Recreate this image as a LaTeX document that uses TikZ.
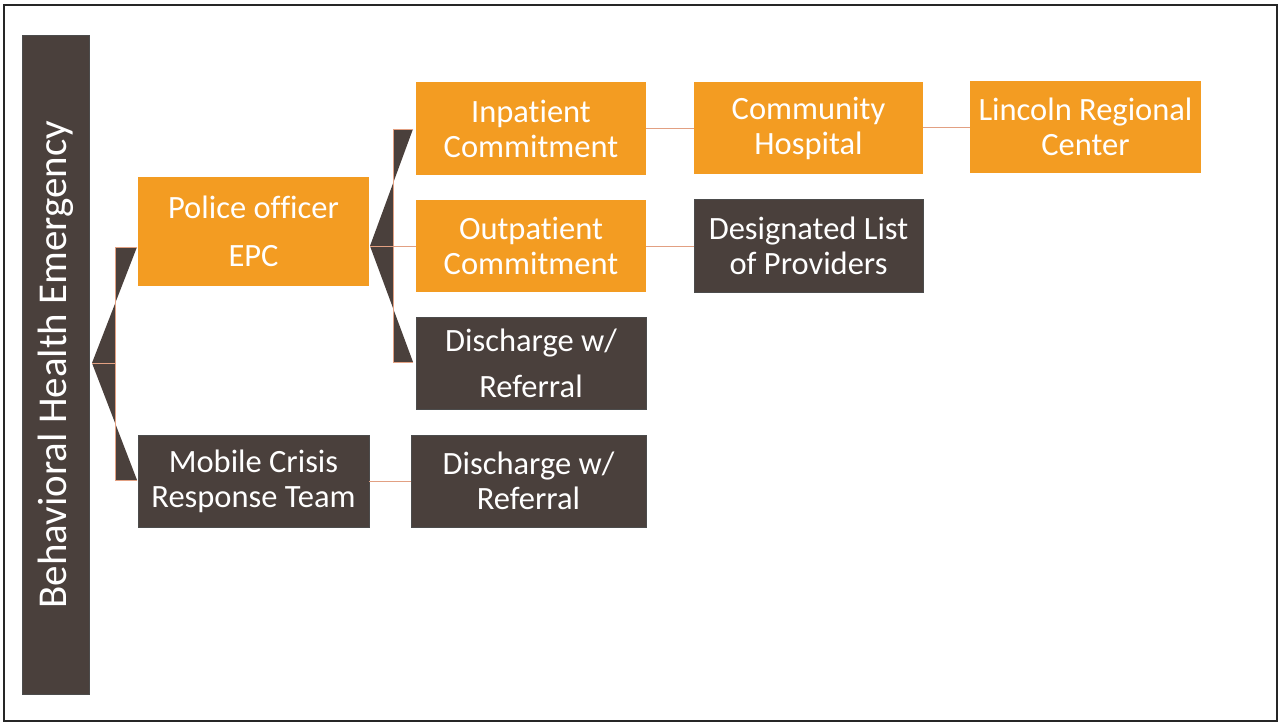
\documentclass[tikz,border=0pt]{standalone}
\usepackage{fontspec}
\setmainfont{Carlito}[Ligatures=NoCommon]
\definecolor{orng}{RGB}{243,156,34}
\definecolor{drk}{RGB}{74,64,60}
\definecolor{lnk}{RGB}{226,160,130}
\begin{document}
\begin{tikzpicture}[x=1pt,y=-1pt,
  base/.style={inner sep=0pt,align=center,text=white,font=\fontsize{32.5}{35}\selectfont},
  obox/.style={base,fill=orng},
  dbox/.style={base,fill=drk,draw=black!70,line width=0.6pt},
  link/.style={draw=lnk,line width=0.9pt},
  brk/.style={fill=drk,even odd rule}]
\useasboundingbox (0,0) rectangle (1280,725);
\fill[white] (0,0) rectangle (1280,725);
\draw[line width=2.2pt,black!85] (4,5) rectangle (1277,721);
% vertical bar
\node[dbox,minimum width=67pt,minimum height=659pt] (bar) at (55.5,364.5) {};
\node[base,rotate=90,font=\fontsize{41}{44}\selectfont] (bartxt) at (bar.center) {Behavioral Health Emergency};
% boxes
\node[obox,minimum width=231pt,minimum height=109pt,font=\fontsize{32.5}{48}\selectfont] (police) at (253.5,231.5) {Police officer\\EPC};
\node[dbox,minimum width=231pt,minimum height=92pt] (mobile) at (253.5,481) {Mobile Crisis\\Response Team};
\node[obox,minimum width=230pt,minimum height=93pt] (inpat) at (531,128.5) {Inpatient\\Commitment};
\node[obox,minimum width=230pt,minimum height=92pt] (outpat) at (531,246) {Outpatient\\Commitment};
\node[dbox,minimum width=230pt,minimum height=92pt,font=\fontsize{32.5}{46}\selectfont] (disch1) at (531,363) {Discharge w/\\Referral};
\node[dbox,minimum width=235pt,minimum height=92pt] (disch2) at (528.5,481) {Discharge w/\\Referral};
\node[obox,minimum width=229pt,minimum height=92pt] (comm) at (808.5,128) {Community\\Hospital};
\node[dbox,minimum width=229pt,minimum height=93pt] (desig) at (808.5,245.5) {Designated List\\of Providers};
\node[obox,minimum width=231pt,minimum height=92pt] (linc) at (1085.5,127) {Lincoln Regional\\Center};
% bracket 1
\coordinate (b1tip) at (92,363);
\path[brk] (115,247) -- (137,247) -- (b1tip) -- (137,480) -- (115,480) -- cycle;
\draw[link] (137,247) -- (115,247) -- (115,480) -- (137,480);
\draw[link] (b1tip) -- (115,363);
% bracket 2
\coordinate (b2tip) at (370,246);
\path[brk] (393,129) -- (413,129) -- (b2tip) -- (413,362) -- (393,362) -- cycle;
\draw[link] (413,129) -- (393,129) -- (393,362) -- (413,362);
\draw[link] (b2tip) -- (outpat.west);
% connectors
\draw[link] (inpat.east |- 0,128) -- (comm.west |- 0,128);
\draw[link] (comm.east |- 0,127) -- (linc.west |- 0,127);
\draw[link] (outpat.east) -- (desig.west |- outpat.east);
\draw[link] (mobile.east) -- (disch2.west);
\end{tikzpicture}
\end{document}
